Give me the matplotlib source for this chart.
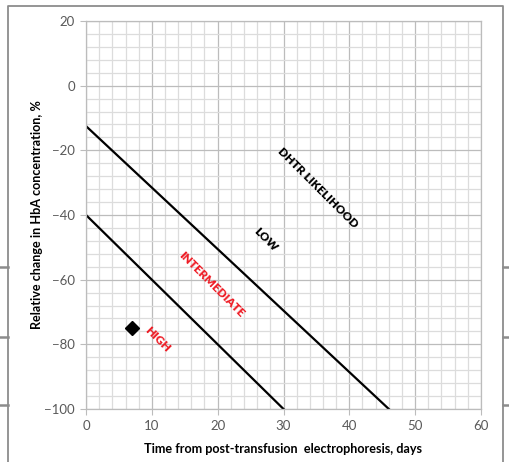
import matplotlib
matplotlib.use("Agg")
import matplotlib.pyplot as plt
from matplotlib.lines import Line2D
import numpy as np

plt.rcParams['font.family'] = ['Lato', 'DejaVu Sans']

# граничные линии (дни, % изменения HbA)
low_line_x = [0, 46]
low_line_y = [-12.5, -100]
high_line_x = [0, 30]
high_line_y = [-40, -100]

# точка пациента
patient_x = [7]
patient_y = [-75]

# подписи зон
zone_labels = ["DHTR LIKELIHOOD", "LOW", "INTERMEDIATE", "HIGH"]
zone_x = [35.2, 27.3, 19.1, 10.9]
zone_y = [-31.5, -47.5, -61.5, -78.5]
zone_col = ['#000000', '#000000', '#ee1c25', '#ee1c25']

x_ticks = [0, 10, 20, 30, 40, 50, 60]
y_ticks = [-100, -80, -60, -40, -20, 0, 20]

fig = plt.figure(figsize=(5.1, 4.62), dpi=100)
ax = fig.add_axes([86 / 510, 1 - 409 / 462, 395 / 510, 388 / 462])

# сетка
ax.set_xticks(np.arange(0, 61, 2), minor=True)
ax.set_yticks(np.arange(-100, 21, 4), minor=True)
ax.set_xticks(x_ticks)
ax.set_yticks(y_ticks)
ax.grid(which='minor', color='#dcdcdc', lw=0.9)
ax.grid(which='major', color='#bcbcbc', lw=0.9)
ax.set_axisbelow(True)
ax.tick_params(which='minor', length=0)
ax.tick_params(which='major', length=4, color='#bcbcbc', labelcolor='#595959', labelsize=9.5, pad=4)
for s in ax.spines.values():
    s.set_color('#bcbcbc')
    s.set_linewidth(0.9)

ax.plot(low_line_x, low_line_y, color='black', lw=1.6)
ax.plot(high_line_x, high_line_y, color='black', lw=1.6)
ax.plot(patient_x, patient_y, marker='D', ms=7.5, color='black', lw=0)

for i in range(len(zone_labels)):
    ax.text(zone_x[i], zone_y[i], zone_labels[i], color=zone_col[i], rotation=-45,
            rotation_mode='anchor', ha='center', va='center', fontsize=8.5, fontweight='heavy')

ax.set_xlim(0, 60)
ax.set_ylim(-100, 20)
ax.set_xlabel("Time from post-transfusion  electrophoresis, days", fontsize=9.1, fontweight='bold', labelpad=8)
ax.set_ylabel("Relative change in HbA concentration, %", fontsize=9.1, fontweight='bold', labelpad=1)

# рамка скриншота
fc = '#8c8c8c'
fig.add_artist(Line2D([8.5 / 510, 8.5 / 510, 503.5 / 510, 503.5 / 510], [0, 1 - 5.5 / 462, 1 - 5.5 / 462, 0],
                      color=fc, lw=1.3))
for yy in [267, 337, 405]:
    fig.add_artist(Line2D([0, 8.5 / 510], [1 - yy / 462] * 2, color=fc, lw=1.8))
    fig.add_artist(Line2D([503.5 / 510, 1], [1 - yy / 462] * 2, color=fc, lw=1.8))

fig.savefig("out.png", dpi=100)
